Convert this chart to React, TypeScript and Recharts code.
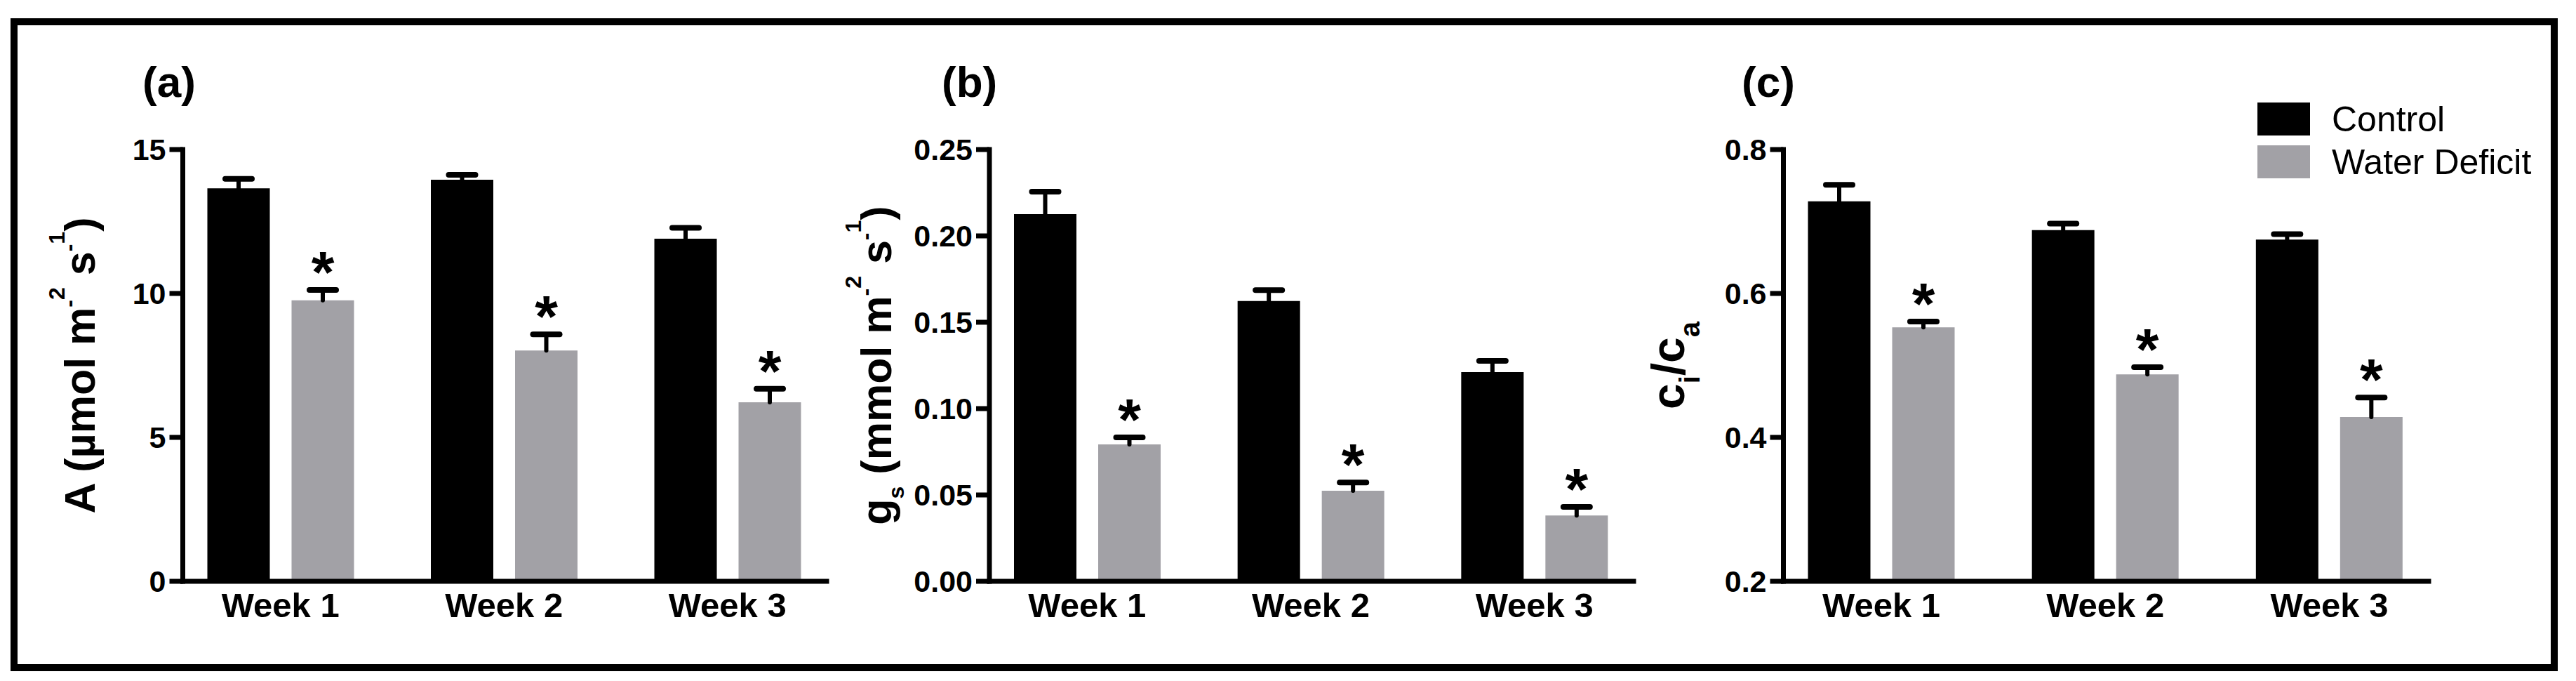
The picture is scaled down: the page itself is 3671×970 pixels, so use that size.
import React from 'react';
import { BarChart, Bar, XAxis, YAxis, Legend, LabelList } from 'recharts';

const FONT = '"Liberation Sans", Arial, Helvetica, sans-serif';
const CONTROL_COLOR = '#000000';
const DEFICIT_COLOR = '#a2a1a6';

// categories
const weeks = ['Week 1', 'Week 2', 'Week 3'];

// (a) net photosynthesis, A
const photoControl = [13.65, 13.95, 11.9];
const photoControlErr = [0.33, 0.17, 0.38];
const photoDeficit = [9.76, 8.02, 6.22];
const photoDeficitErr = [0.36, 0.56, 0.47];
const photoTicks = [0, 5, 10, 15];

// (b) stomatal conductance, gs
const condControl = [0.2126, 0.1623, 0.1211];
const condControlErr = [0.013, 0.0063, 0.0065];
const condDeficit = [0.0793, 0.0524, 0.0381];
const condDeficitErr = [0.004, 0.0048, 0.005];
const condTicks = [0, 0.05, 0.1, 0.15, 0.2, 0.25];

// (c) ci/ca
const ratioControl = [0.728, 0.688, 0.675];
const ratioControlErr = [0.023, 0.009, 0.0075];
const ratioDeficit = [0.553, 0.4876, 0.4284];
const ratioDeficitErr = [0.008, 0.01, 0.027];
const ratioTicks = [0.2, 0.4, 0.6, 0.8];

function buildRows(c: number[], ce: number[], d: number[], de: number[]) {
  return weeks.map((week, i) => ({
    week,
    control: c[i],
    controlErr: ce[i],
    deficit: d[i],
    deficitErr: de[i],
  }));
}

type Seg = { t: string; size?: number; shift?: number };

/** One-sided (upper) error bar drawn on a stacked segment */
function ErrorCap(props: any) {
  const { x, y, width, height } = props;
  if (x == null || y == null) return null;
  const cx = x + width / 2;
  return (
    <g>
      <line x1={cx} x2={cx} y1={y + height} y2={y} stroke="#000" strokeWidth={6} strokeLinecap="round" />
      <line x1={cx - 19} x2={cx + 19} y1={y} y2={y} stroke="#000" strokeWidth={8} strokeLinecap="round" />
    </g>
  );
}

function Asterisk(props: any) {
  const vb = props.viewBox ?? props;
  const { x, y, width } = vb;
  if (x == null || y == null) return null;
  return (
    <text x={x + width / 2} y={y + 4} textAnchor="middle" fontSize={84} fontWeight={700} fontFamily={FONT} fill="#000">
      *
    </text>
  );
}

function renderAxisTitle(segs: Seg[], baseX: number, fontSize: number) {
  return (props: any) => {
    const vb = props.viewBox ?? {};
    const cy = (vb.y ?? 213) + (vb.height ?? 615) / 2;
    let prev = 0;
    return (
      <text
        x={baseX}
        y={cy}
        transform={`rotate(-90, ${baseX}, ${cy})`}
        textAnchor="middle"
        fontSize={fontSize}
        fontWeight={700}
        fontFamily={FONT}
        fill="#000"
      >
        {segs.map((s, i) => {
          const shift = s.shift ?? 0;
          const dy = shift - prev;
          prev = shift;
          return (
            <tspan key={i} dy={dy} fontSize={s.size ?? fontSize}>
              {s.t}
            </tspan>
          );
        })}
      </text>
    );
  };
}

function LegendBox({ payload }: any) {
  const items = (payload ?? []).filter((p: any) => p.type !== 'none');
  return (
    <div>
      {items.map((p: any) => (
        <div key={p.value} style={{ display: 'flex', alignItems: 'center', height: 61 }}>
          <span style={{ display: 'inline-block', width: 75, height: 47, background: p.color }} />
          <span style={{ marginLeft: 31, fontSize: 50, fontFamily: FONT, color: '#000', whiteSpace: 'nowrap' }}>
            {p.value}
          </span>
        </div>
      ))}
    </div>
  );
}

interface PanelProps {
  rows: ReturnType<typeof buildRows>;
  ticks: number[];
  decimals: number;
  left: number;
  width: number;
  plotLeft: number;
  plotRight: number;
  title: (props: any) => React.ReactElement;
  legendLeft?: number;
}

function Panel({ rows, ticks, decimals, left, width, plotLeft, plotRight, title, legendLeft }: PanelProps) {
  const axisStyle = { stroke: '#000', strokeWidth: 7, strokeLinecap: 'square' as const };
  return (
    <div style={{ position: 'absolute', left, top: 0 }}>
      <BarChart
        width={width}
        height={970}
        data={rows}
        margin={{ top: 213, right: width - plotRight, bottom: 82, left: plotLeft - 160 }}
        barSize={89}
        barGap={31}
      >
        <XAxis
          dataKey="week"
          interval={0}
          height={60}
          padding={{ left: -20, right: -18 }}
          tickLine={false}
          tickMargin={10}
          axisLine={axisStyle}
          tick={{ fill: '#000', fontSize: 49, fontWeight: 700, fontFamily: FONT }}
        />
        <YAxis
          width={160}
          domain={[ticks[0], ticks[ticks.length - 1]]}
          ticks={ticks}
          allowDataOverflow
          tickSize={19}
          tickMargin={5}
          axisLine={axisStyle}
          tickLine={{ stroke: '#000', strokeWidth: 7 }}
          tick={{ fill: '#000', fontSize: 43, fontWeight: 700, fontFamily: FONT }}
          tickFormatter={(v: number) => v.toFixed(decimals)}
          label={title}
        />
        <Bar dataKey="control" name="Control" stackId="control" fill={CONTROL_COLOR} isAnimationActive={false} />
        <Bar dataKey="controlErr" stackId="control" legendType="none" shape={ErrorCap} isAnimationActive={false} />
        <Bar dataKey="deficit" name="Water Deficit" stackId="deficit" fill={DEFICIT_COLOR} isAnimationActive={false} />
        <Bar dataKey="deficitErr" stackId="deficit" legendType="none" shape={ErrorCap} isAnimationActive={false}>
          <LabelList dataKey="deficitErr" content={Asterisk} />
        </Bar>
        {legendLeft != null && (
          <Legend
            layout="horizontal"
            verticalAlign="middle"
            align="center"
            content={LegendBox}
            wrapperStyle={{ position: 'absolute', left: legendLeft, top: 139, width: 400, height: 122 }}
          />
        )}
      </BarChart>
    </div>
  );
}

const photoTitle = renderAxisTitle(
  [
    { t: 'A (µmol m' },
    { t: '-', size: 32, shift: -26 },
    { t: '2', size: 32, shift: -43 },
    { t: ' s', shift: 0 },
    { t: '-', size: 32, shift: -26 },
    { t: '1', size: 32, shift: -43 },
    { t: ')', shift: 0 },
  ],
  135,
  61
);

const condTitle = renderAxisTitle(
  [
    { t: 'g' },
    { t: 's', size: 32, shift: 18 },
    { t: ' (mmol m', shift: 0 },
    { t: '-', size: 32, shift: -26 },
    { t: '2', size: 32, shift: -43 },
    { t: ' s', shift: 0 },
    { t: '-', size: 32, shift: -26 },
    { t: '1', size: 32, shift: -43 },
    { t: ')', shift: 0 },
  ],
  80,
  61
);

const ratioTitle = renderAxisTitle(
  [
    { t: 'c' },
    { t: 'i', size: 40, shift: 22 },
    { t: '/c', shift: 0 },
    { t: 'a', size: 40, shift: 22 },
  ],
  80,
  66
);

export default function App() {
  return (
    <div
      style={{
        position: 'absolute',
        left: 0,
        top: 0,
        width: 3671,
        height: 970,
        background: '#fff',
        fontFamily: FONT,
        overflow: 'hidden',
      }}
    >
      <div
        style={{
          position: 'absolute',
          left: 15,
          top: 26,
          width: 3630,
          height: 930,
          border: '10px solid #000',
          boxSizing: 'border-box',
        }}
      />
      <Panel
        rows={buildRows(photoControl, photoControlErr, photoDeficit, photoDeficitErr)}
        ticks={photoTicks}
        decimals={0}
        left={0}
        width={1190}
        plotLeft={260.5}
        plotRight={1178}
        title={photoTitle}
      />
      <Panel
        rows={buildRows(condControl, condControlErr, condDeficit, condDeficitErr)}
        ticks={condTicks}
        decimals={2}
        left={1190}
        width={1160}
        plotLeft={220}
        plotRight={1138}
        title={condTitle}
      />
      <Panel
        rows={buildRows(ratioControl, ratioControlErr, ratioDeficit, ratioDeficitErr)}
        ticks={ratioTicks}
        decimals={1}
        left={2320}
        width={1320}
        plotLeft={221.5}
        plotRight={1141}
        title={ratioTitle}
        legendLeft={897}
      />
      <svg
        width={3671}
        height={970}
        style={{ position: 'absolute', left: 0, top: 0, pointerEvents: 'none' }}
      >
        {[
          { t: '(a)', x: 203 },
          { t: '(b)', x: 1342 },
          { t: '(c)', x: 2482 },
        ].map((p) => (
          <text key={p.t} x={p.x} y={138} fontSize={62} fontWeight={700} fontFamily={FONT} fill="#000">
            {p.t}
          </text>
        ))}
      </svg>
    </div>
  );
}
